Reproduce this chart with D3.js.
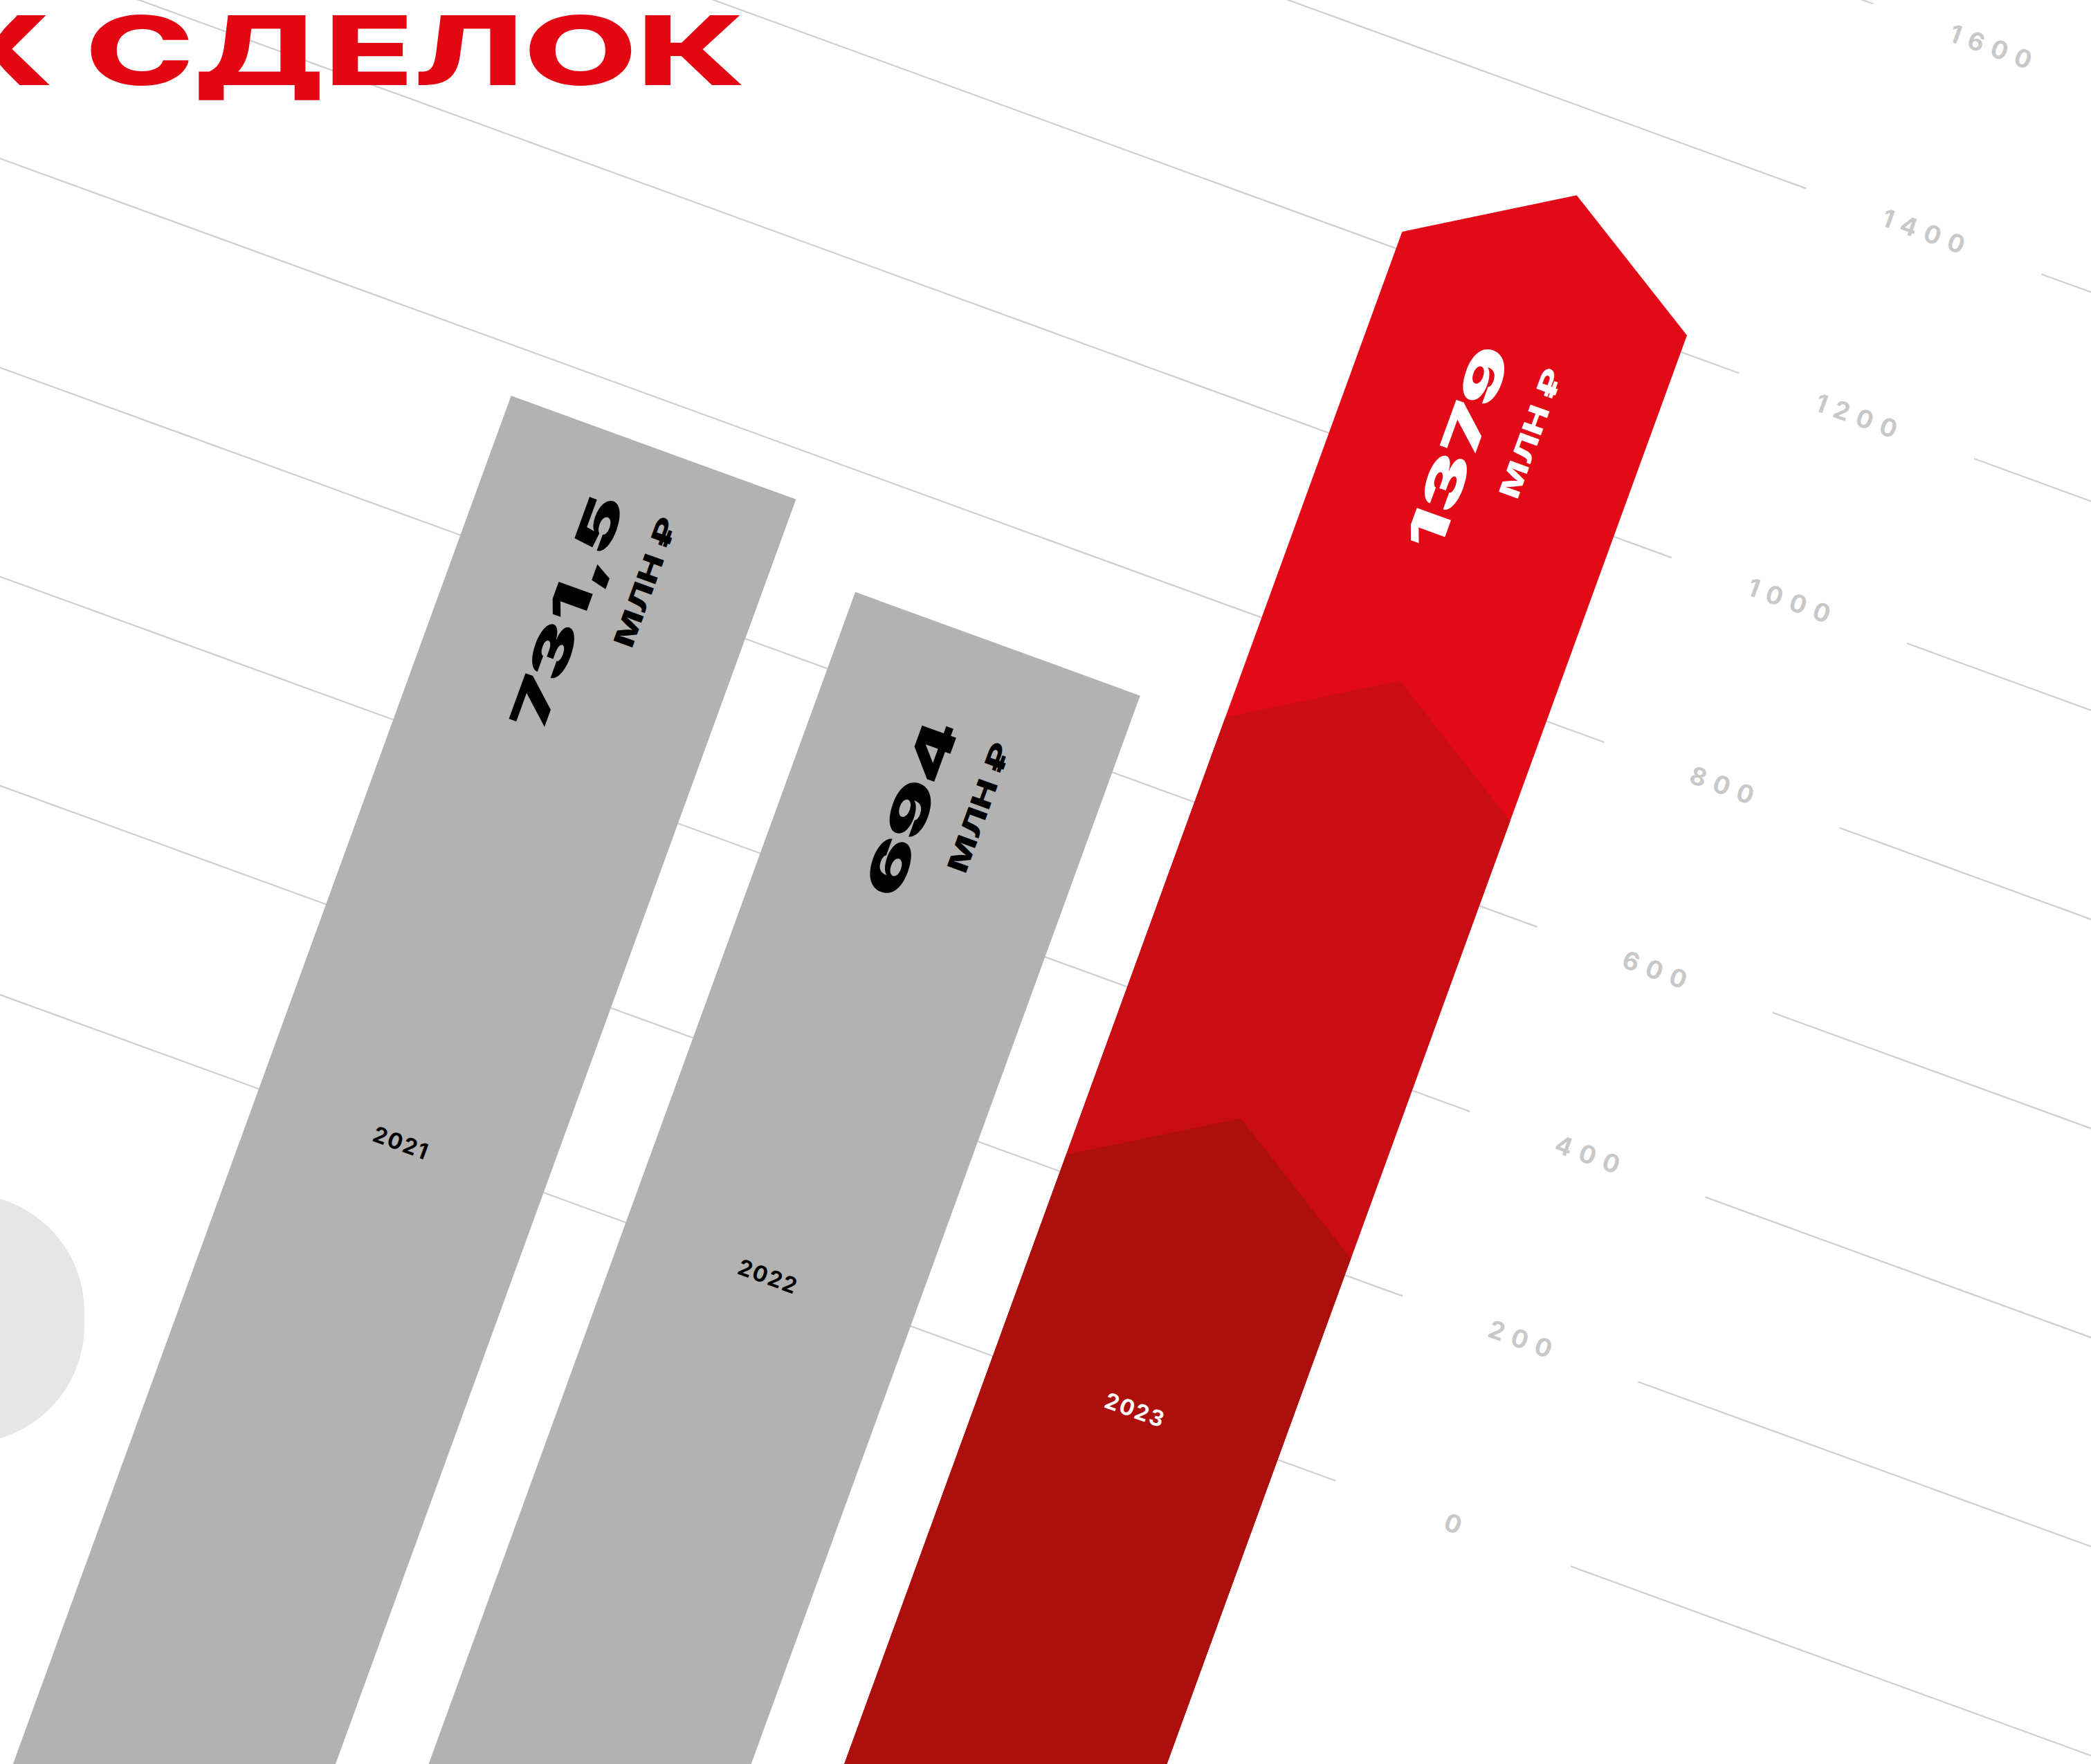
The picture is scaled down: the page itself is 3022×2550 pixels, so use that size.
<!DOCTYPE html>
<html>
<head>
<meta charset="utf-8">
<script src="https://cdn.jsdelivr.net/npm/d3@7"></script>
<style>
  html, body { margin: 0; padding: 0; background: #ffffff; overflow: hidden; }
  svg { display: block; }
</style>
</head>
<body>
<svg id="chart" width="3022" height="2550"></svg>
<script>
// ---------------- data ----------------
const years = ["2021", "2022", "2023"];
const values = [731.5, 694, 1379];            // labelled totals, млн ₽
const barTops = [751, 683, 1218];             // bar heights as drawn against the axis
const tiers2023 = [1218, 692, 218];           // upper edges of the three red tiers of 2023 (top → bottom)
const tickValues = [0, 200, 400, 600, 800, 1000, 1200, 1400, 1600];
const titleText = "Х СДЕЛОК";
const unitText = "МЛН ₽";
const highlightYear = "2023";

// ---------------- layout / style ----------------
const W = 3022, H = 2550;
const ANGLE = 20;
const ORIGIN = [0, 1438];
const PX_PER_UNIT = 1.42;
const BOTTOM = 1500;
const FONT = "Inter, 'Noto Sans', 'DejaVu Sans', sans-serif";
const RED = "#E30613";
const tierColors = ["#E30A17", "#C90D12", "#AD100C"];
const GREY_BAR = "#B2B2B2";
const GRID = "#CFCFCF";
const TICK = "#C8C8C8";

const svg = d3.select("#chart");
const locale = d3.formatLocale({decimal: ",", thousands: " ", grouping: [3], currency: ["", ""]});
const fmt = locale.format("");

function measure(str, size, weight) {
  const t = svg.append("text").text(str)
    .attr("font-family", FONT).attr("font-size", size).attr("font-weight", weight);
  const w = t.node().getComputedTextLength();
  t.remove();
  return w;
}

function draw() {
  svg.append("rect").attr("width", W).attr("height", H).attr("fill", "#fff");

  // light grey shape at left edge
  svg.append("rect")
    .attr("x", -300).attr("y", 1726).attr("width", 422).attr("height", 360)
    .attr("rx", 170).attr("ry", 170).attr("fill", "#E6E6E6");

  const g = svg.append("g").attr("transform", `translate(${ORIGIN[0]},${ORIGIN[1]}) rotate(${ANGLE})`);

  const y = d3.scaleLinear().domain([0, 1600]).range([0, -1600 * PX_PER_UNIT]);
  const x = d3.scaleBand().domain(years).range([398, 1965]).paddingInner(0.224).paddingOuter(0);
  const bw = x.bandwidth();
  const LABEL_X = 2235, GAP_L = 2054, GAP_R = 2416;

  // grid lines (broken around the tick labels)
  const grid = g.append("g");
  grid.selectAll("line.a").data(tickValues).join("line").attr("class", "a")
    .attr("x1", -1600).attr("x2", GAP_L).attr("y1", d => y(d)).attr("y2", d => y(d))
    .attr("stroke", GRID).attr("stroke-width", 2.2);
  grid.selectAll("line.b").data(tickValues).join("line").attr("class", "b")
    .attr("x1", GAP_R).attr("x2", 5000).attr("y1", d => y(d)).attr("y2", d => y(d))
    .attr("stroke", GRID).attr("stroke-width", 2.2);

  // tick labels
  const tickSpacing = 12;
  grid.selectAll("text").data(tickValues).join("text")
    .attr("x", LABEL_X).attr("y", d => y(d)).attr("dx", tickSpacing / 2)
    .attr("text-anchor", "middle").attr("dominant-baseline", "central")
    .attr("font-family", FONT).attr("font-size", 36).attr("font-weight", 700)
    .attr("letter-spacing", tickSpacing).attr("fill", TICK)
    .text(d => d);

  // bars
  function barPath(x0, top, peak) {
    const p = d3.path();
    p.moveTo(x0, BOTTOM);
    p.lineTo(x0, top);
    if (peak) p.lineTo(x0 + bw / 2, top - peak);
    p.lineTo(x0 + bw, top);
    p.lineTo(x0 + bw, BOTTOM);
    p.closePath();
    return p.toString();
  }
  const bars = g.append("g");
  years.forEach((yr, i) => {
    if (yr !== highlightYear) {
      bars.append("path").attr("d", barPath(x(yr), y(barTops[i]), 0)).attr("fill", GREY_BAR);
    } else {
      bars.selectAll("path.tier").data(tiers2023).join("path").attr("class", "tier")
        .attr("d", d => barPath(x(yr), y(d), bw * 0.31))
        .attr("fill", (d, k) => tierColors[k]);
    }
  });

  // value labels
  const NUM_SIZE = 72, UNIT_SIZE = 40;
  const sxNum = 266 / measure(fmt(694), NUM_SIZE, 900);
  const sxUnit = 197 / measure(unitText, UNIT_SIZE, 800);
  const labels = g.append("g");
  years.forEach((yr, i) => {
    const cx = x(yr) + bw / 2;
    const col = yr === highlightYear ? "#ffffff" : "#000000";
    const txt = fmt(values[i]);
    const L = measure(txt, NUM_SIZE, 900) * sxNum;
    const lg = labels.append("g")
      .attr("transform", `translate(${cx},${y(barTops[i]) + 266}) rotate(-90)`);
    lg.append("text")
      .attr("transform", `translate(0,-10) scale(${sxNum},1)`)
      .attr("text-anchor", "middle")
      .attr("font-family", FONT).attr("font-size", NUM_SIZE).attr("font-weight", 900)
      .attr("fill", col).text(txt);
    lg.append("text")
      .attr("transform", `translate(${L / 2},70) scale(${sxUnit},1)`)
      .attr("text-anchor", "end")
      .attr("font-family", FONT).attr("font-size", UNIT_SIZE).attr("font-weight", 800)
      .attr("fill", col).text(unitText);
    // year label on the zero line
    labels.append("text")
      .attr("x", cx).attr("y", y(0) + 3).attr("dx", 1)
      .attr("text-anchor", "middle").attr("dominant-baseline", "central")
      .attr("font-family", FONT).attr("font-size", 32).attr("font-weight", 700)
      .attr("letter-spacing", 2).attr("fill", col).text(yr);
  });

  // title (cut by the left edge, as in the original layout)
  const TITLE_SIZE = 139;
  const sxTitle = 954 / measure("СДЕЛОК", TITLE_SIZE, 800);
  svg.append("g").attr("transform", `translate(1077,123) scale(${sxTitle},1)`)
    .append("text")
    .attr("text-anchor", "end")
    .attr("font-family", FONT).attr("font-size", TITLE_SIZE).attr("font-weight", 800)
    .attr("fill", RED).text(titleText);
}

if (document.fonts && document.fonts.ready) {
  document.fonts.ready.then(draw);
} else {
  draw();
}
</script>
</body>
</html>
